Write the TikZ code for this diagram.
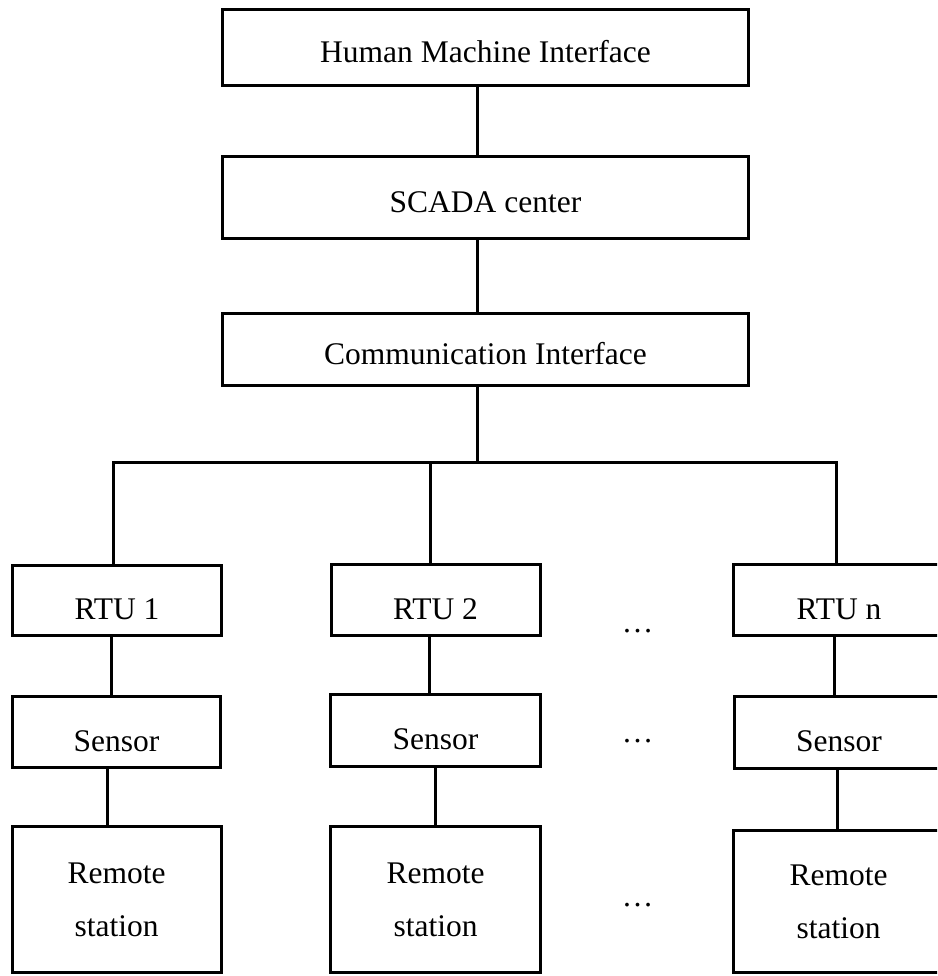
\documentclass[tikz,border=0pt]{standalone}
\usepackage{fontspec}
\setmainfont{Liberation Serif}
\begin{document}
\begin{tikzpicture}[x=1pt,y=-1pt,
  every node/.style={font=\fontsize{31.5}{53}\selectfont},
  blk/.style={draw, line width=3pt, inner sep=0pt, text height=#1, text depth=0pt},
  wide/.style={blk=30pt, minimum width=526pt},
  unit/.style={blk=38pt, minimum width=209pt, minimum height=71pt},
  station/.style={draw, line width=3pt, inner sep=0pt, align=center, minimum width=209pt},
  wire/.style={line width=3pt},
  gap/.style={anchor=base}]
\useasboundingbox (0,0) rectangle (937,976);
\clip (0,0) rectangle (937,976);

% upper chain
\node[wide, minimum height=76pt] (hmi)   at (485.5,47.5)  {Human Machine Interface};
\node[wide, minimum height=82pt] (scada) at (485.5,197.5) {SCADA center};
\node[wide, minimum height=72pt] (comm)  at (485.5,349.5) {Communication Interface};

% RTU row
\node[unit, minimum height=70pt] (rtu1) at (117,600.5) {RTU 1};
\node[unit]                      (rtu2) at (435.5,600) {RTU 2};
\node[unit, minimum width=212pt] (rtun) at (839,600)   {RTU n};

% sensor row
\node[unit, minimum width=208pt]                      (sen1) at (116.5,732)  {Sensor};
\node[unit, minimum width=210pt, minimum height=72pt] (sen2) at (435.5,730.5) {Sensor};
\node[unit, minimum height=72pt]                      (senn) at (839,732.5)  {Sensor};

% remote stations
\node[station, minimum height=146pt] (rem1) at (116.5,899.5) {Remote\\station};
\node[station, minimum width=210pt, minimum height=146pt] (rem2) at (435.5,899.5) {Remote\\station};
\node[station, minimum width=210pt, minimum height=142pt] (remn) at (838.5,901.5) {Remote\\station};

% ellipses between columns
\node[gap] (g1) at (637.5,632) {…};
\node[gap] (g2) at (637.5,742) {…};
\node[gap] (g3) at (637.5,906) {…};

% trunk and bus
\coordinate (trunk) at (477,0);
\coordinate (j1) at (113,462);
\coordinate (j2) at (430,462);
\coordinate (j3) at (836,462);

\draw[wire] (hmi.south -| trunk) -- (scada.north -| trunk);
\draw[wire] (scada.south -| trunk) -- (comm.north -| trunk);
\draw[wire] (comm.south -| trunk) -- (trunk |- j1);
\draw[wire] (rtu1.north -| j1) -- (j1) -- (j3) -- (rtun.north -| j3);
\draw[wire] (j2) -- (rtu2.north -| j2);

% column links
\coordinate (c1a) at (111,0);  \coordinate (c1b) at (107,0);
\coordinate (c2a) at (429,0);  \coordinate (c2b) at (435,0);
\coordinate (c3a) at (834,0);  \coordinate (c3b) at (837,0);
\draw[wire] (rtu1.south -| c1a) -- (sen1.north -| c1a);
\draw[wire] (sen1.south -| c1b) -- (rem1.north -| c1b);
\draw[wire] (rtu2.south -| c2a) -- (sen2.north -| c2a);
\draw[wire] (sen2.south -| c2b) -- (rem2.north -| c2b);
\draw[wire] (rtun.south -| c3a) -- (senn.north -| c3a);
\draw[wire] (senn.south -| c3b) -- (remn.north -| c3b);
\end{tikzpicture}
\end{document}
